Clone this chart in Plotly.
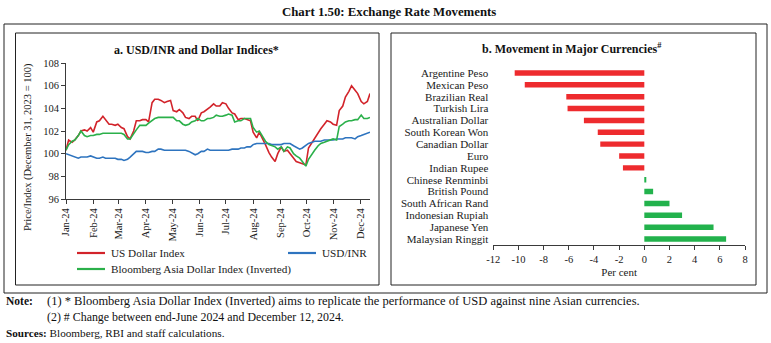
import plotly.graph_objects as go

W, H = 771, 343
SERIF = "Liberation Serif"

# ---- Panel a: USD/INR and dollar indices (31 Dec 2023 = 100) ----
dates = [
    "2024-01-01", "2024-01-04", "2024-01-08", "2024-01-11", "2024-01-15", "2024-01-18", "2024-01-22", "2024-01-25",
    "2024-01-29", "2024-02-01", "2024-02-05", "2024-02-08", "2024-02-12", "2024-02-15", "2024-02-19", "2024-02-22",
    "2024-02-26", "2024-02-29", "2024-03-04", "2024-03-07", "2024-03-11", "2024-03-14", "2024-03-18", "2024-03-21",
    "2024-03-25", "2024-03-28", "2024-04-01", "2024-04-04", "2024-04-08", "2024-04-11", "2024-04-15", "2024-04-18",
    "2024-04-22", "2024-04-25", "2024-04-29", "2024-05-02", "2024-05-06", "2024-05-09", "2024-05-13", "2024-05-16",
    "2024-05-20", "2024-05-23", "2024-05-27", "2024-05-30", "2024-06-03", "2024-06-06", "2024-06-10", "2024-06-13",
    "2024-06-17", "2024-06-20", "2024-06-24", "2024-06-27", "2024-07-01", "2024-07-04", "2024-07-08", "2024-07-11",
    "2024-07-15", "2024-07-18", "2024-07-22", "2024-07-25", "2024-07-29", "2024-08-01", "2024-08-05", "2024-08-08",
    "2024-08-12", "2024-08-15", "2024-08-19", "2024-08-22", "2024-08-26", "2024-08-29", "2024-09-02", "2024-09-05",
    "2024-09-09", "2024-09-12", "2024-09-16", "2024-09-19", "2024-09-23", "2024-09-26", "2024-09-30", "2024-10-03",
    "2024-10-07", "2024-10-10", "2024-10-14", "2024-10-17", "2024-10-21", "2024-10-24", "2024-10-28", "2024-10-31",
    "2024-11-04", "2024-11-07", "2024-11-11", "2024-11-14", "2024-11-18", "2024-11-21", "2024-11-25", "2024-11-28",
    "2024-12-02", "2024-12-05", "2024-12-09", "2024-12-12",
]

us_dollar_index = [
    100.3, 101.2, 101.0, 101.2, 101.6, 102.0, 102.1, 102.0, 102.3, 101.9, 102.8, 102.9, 103.3, 103.0, 102.6, 102.6,
    102.5, 102.6, 102.3, 102.2, 101.5, 101.3, 102.0, 102.9, 102.9, 103.0, 103.0, 102.8, 104.5, 104.8, 104.8, 104.7,
    104.5, 104.6, 104.7, 103.8, 103.7, 103.9, 103.6, 103.2, 103.1, 103.3, 103.3, 102.9, 103.6, 103.7, 103.9, 104.1,
    104.4, 104.2, 104.2, 104.5, 104.4, 104.0, 103.6, 103.5, 103.0, 103.1, 103.1, 103.0, 102.9, 101.9, 101.4, 101.9,
    101.3, 100.8, 100.1, 99.7, 99.3, 100.0, 100.6, 100.2, 100.3, 100.0, 99.6, 99.3, 99.2, 99.1, 99.0, 100.5,
    101.0, 101.3, 101.9, 102.2, 102.6, 102.9, 102.8, 102.6, 102.5, 103.8, 104.2, 105.0, 105.5, 106.0, 105.6, 105.3,
    104.6, 104.4, 104.6, 105.3,
]

usd_inr = [
    100.0, 99.9, 99.8, 99.7, 99.6, 99.7, 99.7, 99.7, 99.8, 99.7, 99.6, 99.6, 99.7, 99.6, 99.6, 99.6,
    99.6, 99.5, 99.5, 99.4, 99.5, 99.7, 100.0, 100.2, 100.2, 100.2, 100.1, 100.1, 100.2, 100.2, 100.4, 100.4,
    100.3, 100.3, 100.3, 100.3, 100.3, 100.3, 100.3, 100.3, 100.2, 100.1, 99.9, 100.0, 100.2, 100.2, 100.4, 100.3,
    100.3, 100.3, 100.3, 100.3, 100.3, 100.3, 100.4, 100.4, 100.4, 100.5, 100.5, 100.6, 100.6, 100.8, 100.9, 100.9,
    100.9, 100.9, 100.9, 100.8, 100.8, 100.8, 100.8, 100.9, 100.9, 100.9, 100.7, 100.6, 100.4, 100.5, 100.7, 100.9,
    101.0, 101.1, 101.1, 101.1, 101.2, 101.2, 101.2, 101.2, 101.3, 101.3, 101.3, 101.4, 101.4, 101.4, 101.3, 101.5,
    101.6, 101.7, 101.8, 101.9,
]

asia_dollar_inverted = [
    100.3, 100.8, 101.1, 101.2, 101.6, 102.0, 101.6, 101.5, 101.6, 101.6, 101.7, 101.7, 101.8, 101.8, 101.8, 101.8,
    101.8, 101.8, 101.8, 101.7, 101.3, 101.3, 101.8, 102.1, 102.5, 102.5, 102.5, 102.7, 102.9, 103.1, 103.2, 103.2,
    103.2, 103.2, 103.2, 103.2, 102.9, 102.9, 102.6, 102.5, 102.6, 102.8, 102.9, 103.1, 102.9, 102.9, 103.1, 103.1,
    103.2, 103.4, 103.3, 103.3, 103.4, 103.5, 103.4, 102.8, 102.9, 102.9, 103.1, 103.1, 103.1, 102.3, 101.9, 102.0,
    101.5, 101.1, 100.8, 100.7, 100.6, 100.4, 100.6, 100.2, 100.6, 100.5, 100.0, 99.8, 99.6, 99.3, 98.9, 99.5,
    100.0, 100.3, 100.7, 100.9, 101.0, 101.1, 101.2, 101.3, 101.2, 102.4, 102.6, 102.8, 102.9, 102.9, 103.0, 103.0,
    103.4, 103.1, 103.1, 103.2,
]

month_ticks = ["2024-01-01", "2024-02-01", "2024-03-01", "2024-04-01", "2024-05-01", "2024-06-01",
               "2024-07-01", "2024-08-01", "2024-09-01", "2024-10-01", "2024-11-01", "2024-12-01"]
month_labels = ["Jan-24", "Feb-24", "Mar-24", "Apr-24", "May-24", "Jun-24",
                "Jul-24", "Aug-24", "Sep-24", "Oct-24", "Nov-24", "Dec-24"]

# ---- Panel b: change between end-June 2024 and 12 Dec 2024 (per cent) ----
currencies = ["Argentine Peso", "Mexican Peso", "Brazilian Real", "Turkish Lira", "Australian Dollar",
              "South Korean Won", "Canadian Dollar", "Euro", "Indian Rupee", "Chinese Renminbi",
              "British Pound", "South African Rand", "Indonesian Rupiah", "Japanese Yen", "Malaysian Ringgit"]
change_pct = [-10.3, -9.5, -6.2, -6.1, -4.8, -3.7, -3.5, -2.0, -1.7, 0.1, 0.7, 2.0, 3.0, 5.5, 6.5]
pct_ticks = [-12, -10, -8, -6, -4, -2, 0, 2, 4, 6, 8]

RED_LINE, BLUE_LINE, GREEN_LINE = "#D2232A", "#2E74BF", "#2BB04A"
RED_BAR, GREEN_BAR = "#EE2B2E", "#22B24C"
AXIS = "#3a3a3a"
TXT = "#1a1a1a"


def fx(p):  # pixel column -> paper x
    return p / W


def fy(p):  # pixel row -> paper y
    return 1 - p / H


fig = go.Figure()

series = [
    ("US Dollar Index", us_dollar_index, RED_LINE),
    ("USD/INR", usd_inr, BLUE_LINE),
    ("Bloomberg Asia Dollar Index (Inverted)", asia_dollar_inverted, GREEN_LINE),
]
for name, vals, col in series:
    fig.add_trace(go.Scatter(x=dates, y=vals, mode="lines", name=name, showlegend=False,
                             line=dict(color=col, width=1.6), xaxis="x", yaxis="y"))

bar_colors = [RED_BAR if v < 0 else GREEN_BAR for v in change_pct]
fig.add_trace(go.Bar(x=change_pct, y=currencies, orientation="h", width=0.46,
                     marker=dict(color=bar_colors, line=dict(width=0)),
                     xaxis="x2", yaxis="y2", showlegend=False))

tick_font = dict(family=SERIF, size=10.5, color=TXT)

fig.update_layout(
    width=W, height=H, margin=dict(l=0, r=0, t=0, b=0, autoexpand=False),
    paper_bgcolor="white", plot_bgcolor="white",
    font=dict(family=SERIF, color=TXT),
    showlegend=False,
    xaxis=dict(domain=[fx(66), fx(370)], anchor="y", type="date", automargin=False,
               range=["2024-01-01", "2024-12-12"],
               tickmode="array", tickvals=month_ticks, ticktext=month_labels, tickangle=-90,
               ticks="outside", ticklen=4, tickcolor=AXIS, showline=True, linecolor=AXIS, linewidth=1,
               showgrid=False, zeroline=False, tickfont=tick_font),
    yaxis=dict(domain=[fy(199), fy(63)], anchor="x", range=[96, 108], dtick=2, automargin=False,
               ticks="outside", ticklen=4, tickcolor=AXIS, showline=True, linecolor=AXIS, linewidth=1,
               showgrid=False, zeroline=False, tickfont=tick_font),
    xaxis2=dict(domain=[fx(493.3), fx(745)], anchor="y2", range=[-12, 8], automargin=False,
                tickmode="array", tickvals=pct_ticks, ticktext=[str(v) for v in pct_ticks],
                ticks="outside", ticklen=4, tickcolor=AXIS, showline=True, linecolor=AXIS, linewidth=1,
                showgrid=False, zeroline=False, tickfont=tick_font,
                title=dict(text="Per cent", font=dict(family=SERIF, size=11, color=TXT), standoff=4)),
    yaxis2=dict(domain=[fy(245), fy(67)], anchor="x2", type="category", categoryorder="array",
                categoryarray=currencies, tickmode="array", tickvals=currencies, automargin=False,
                range=[14.5, -0.5], ticks="", showline=False, ticklabelstandoff=4,
                showgrid=False, zeroline=False, tickfont=dict(family=SERIF, size=11, color=TXT)),
    yaxis3=dict(overlaying="y2", anchor="free", position=fx(644.3), range=[14.5, -0.5], automargin=False,
                tickmode="array", tickvals=[i - 0.5 for i in range(len(currencies) + 1)],
                showticklabels=False, ticks="outside", ticklen=4, tickcolor=AXIS,
                showline=True, linecolor=AXIS, linewidth=1, showgrid=False, zeroline=False),
)

# Frames around the chart and each panel
frames = [(4, 24, 767, 293), (15.5, 33, 379, 285), (391, 33, 756, 285)]
for x0, y0, x1, y1 in frames:
    fig.add_shape(type="rect", xref="paper", yref="paper", x0=fx(x0), x1=fx(x1), y0=fy(y1), y1=fy(y0),
                  line=dict(color="#222", width=1), fillcolor="rgba(0,0,0,0)", layer="below")

# Legend for panel a: sample line + label per series
legend_slots = [(77, 253), (288, 253), (77, 269)]
for (name, _, col), (lx, ly) in zip(series, legend_slots):
    fig.add_shape(type="line", xref="paper", yref="paper", x0=fx(lx), x1=fx(lx + 28), y0=fy(ly), y1=fy(ly),
                  line=dict(color=col, width=2.2))
    fig.add_annotation(text=name, x=fx(lx + 32), y=fy(ly), xref="paper", yref="paper", xanchor="left",
                       yanchor="middle", showarrow=False, font=dict(family=SERIF, size=11.2, color=TXT))

texts = [
    dict(text="<b>Chart 1.50: Exchange Rate Movements</b>", x=fx(389), y=fy(12), size=12.8, xanchor="center"),
    dict(text="<b>a. USD/INR and Dollar Indices*</b>", x=fx(197), y=fy(50), size=12, xanchor="center"),
    dict(text="<b>b. Movement in Major Currencies<sup>#</sup></b>", x=fx(572), y=fy(49), size=12, xanchor="center"),
    dict(text="<b>Note:</b>", x=fx(4), y=fy(301), size=11.5, xanchor="left"),
    dict(text="(1) * Bloomberg Asia Dollar Index (Inverted) aims to replicate the performance of USD against nine Asian currencies.",
         x=fx(45), y=fy(301), size=12.5, xanchor="left"),
    dict(text="(2) # Change between end-June 2024 and December 12, 2024.", x=fx(45), y=fy(317), size=11.9,
         xanchor="left"),
    dict(text="<b>Sources:</b> Bloomberg, RBI and staff calculations.", x=fx(4), y=fy(333), size=11.2,
         xanchor="left"),
]
for t in texts:
    fig.add_annotation(text=t["text"], x=t["x"], y=t["y"], xref="paper", yref="paper",
                       xanchor=t["xanchor"], yanchor="middle", showarrow=False,
                       font=dict(family=SERIF, size=t["size"], color="#111"))

fig.add_annotation(text="Price/Index (December 31, 2023 = 100)", x=fx(28), y=fy(147), xref="paper",
                   yref="paper", textangle=-90, showarrow=False, xanchor="center", yanchor="middle",
                   font=dict(family=SERIF, size=10.5, color=TXT))

fig.write_html("out.html")
